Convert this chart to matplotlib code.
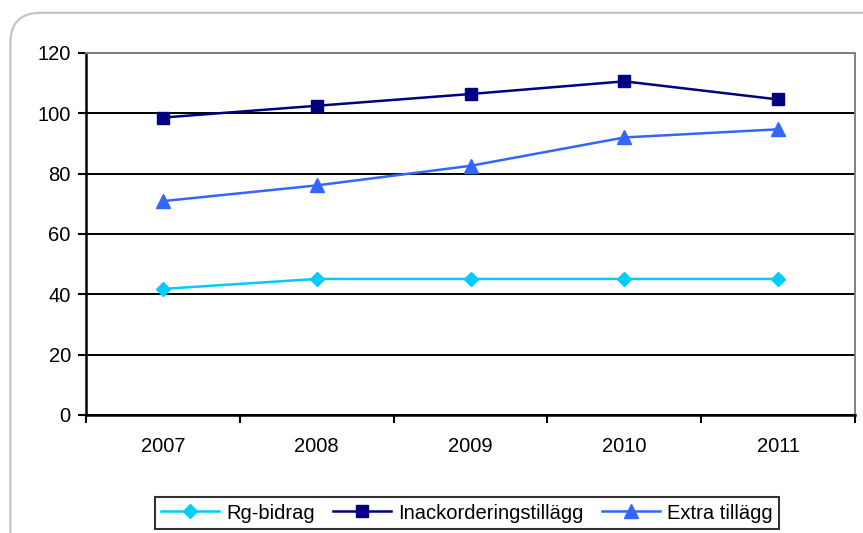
import matplotlib.pyplot as plt
from matplotlib.patches import FancyBboxPatch

years = ["2007", "2008", "2009", "2010", "2011"]
rg_bidrag = [41.8, 45.1, 45.1, 45.1, 45.1]
inackordering = [98.6, 102.5, 106.4, 110.6, 104.6]
extra = [70.9, 76.1, 82.6, 92.0, 94.7]

plt.rcParams["font.family"] = ["Liberation Sans", "DejaVu Sans"]

fig = plt.figure(figsize=(8.63, 5.33), dpi=100)

# Rounded chart border
border = FancyBboxPatch((0.012, -0.05), 1.2, 1.026, boxstyle="round,pad=0,rounding_size=0.035",
                        transform=fig.transFigure, facecolor="none", edgecolor="#c0c0c0",
                        linewidth=1.5, mutation_aspect=863 / 533, zorder=-1)
fig.patches.append(border)

ax = fig.add_axes([0.0997, 0.2214, 0.891, 0.6792])
ax.set_facecolor("none")
x = range(len(years))

ax.plot(x, rg_bidrag, color="#00ccff", marker="D", markersize=7.5, linewidth=1.8, label="Rg-bidrag")
ax.plot(x, inackordering, color="#000080", marker="s", markersize=8.5, linewidth=1.8,
        label="Inackorderingstillägg")
ax.plot(x, extra, color="#3366ff", marker="^", markersize=10, linewidth=1.8, label="Extra tillägg")

ax.set_xlim(-0.5, 4.5)
ax.set_ylim(0, 120)
ax.set_yticks(range(0, 121, 20))
ax.set_xticks(x)
ax.set_xticklabels(years)
ax.set_xticks([i - 0.5 for i in range(6)], minor=True)
ax.tick_params(axis="x", which="major", length=0, pad=16, labelsize=14.5)
ax.tick_params(axis="x", which="minor", length=6, width=1.5, color="black")
ax.tick_params(axis="y", length=6, width=1.5, labelsize=14.5, pad=5)
ax.yaxis.grid(True, color="black", linewidth=1.4)
ax.set_axisbelow(True)

for side in ["top", "right"]:
    ax.spines[side].set_color("#808080")
    ax.spines[side].set_linewidth(1.4)
for side in ["left", "bottom"]:
    ax.spines[side].set_color("black")
    ax.spines[side].set_linewidth(1.8)

leg = fig.legend(loc="center", bbox_to_anchor=(0.541, 0.0375), ncol=3, fontsize=14.5,
                 frameon=True, fancybox=False, edgecolor="black", handlelength=2.9,
                 columnspacing=0.9, handletextpad=0.35, borderpad=0.3, borderaxespad=0)
leg.get_frame().set_linewidth(1.5)

plt.savefig("out.png", dpi=100)
